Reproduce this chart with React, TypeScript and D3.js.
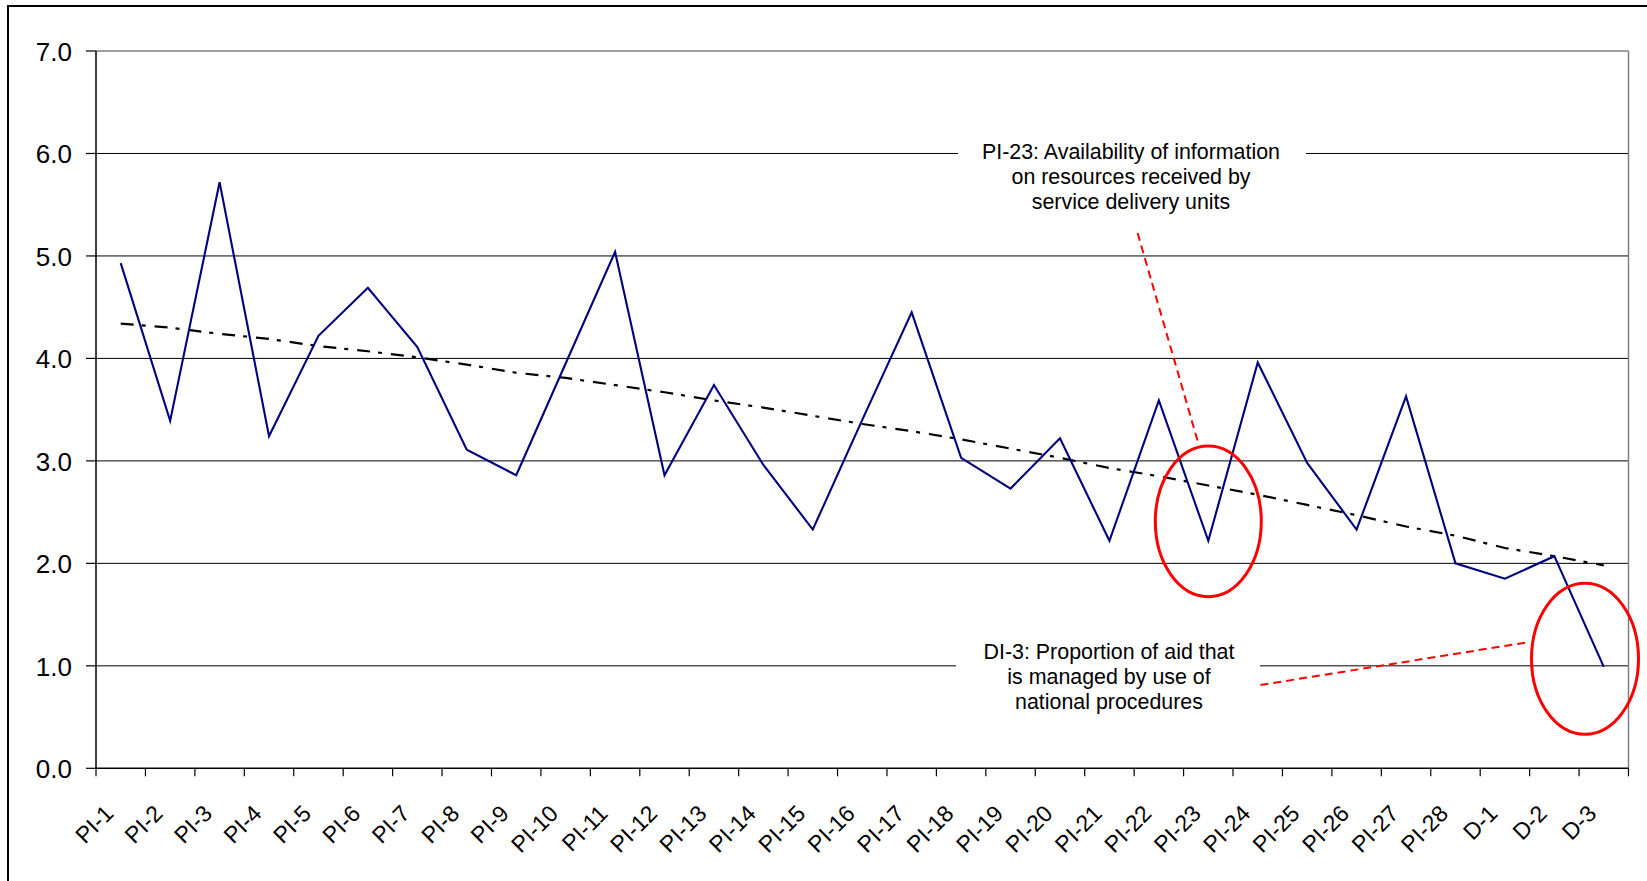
import React from "react";
import * as d3 from "d3";

const categories = [
  "PI-1", "PI-2", "PI-3", "PI-4", "PI-5", "PI-6", "PI-7", "PI-8", "PI-9", "PI-10",
  "PI-11", "PI-12", "PI-13", "PI-14", "PI-15", "PI-16", "PI-17", "PI-18", "PI-19", "PI-20",
  "PI-21", "PI-22", "PI-23", "PI-24", "PI-25", "PI-26", "PI-27", "PI-28", "D-1", "D-2", "D-3",
];

const scores = [
  4.93, 3.39, 5.72, 3.24, 4.22, 4.69, 4.11, 3.11, 2.86, 3.95,
  5.04, 2.86, 3.74, 2.96, 2.33, 3.40, 4.45, 3.03, 2.73, 3.22,
  2.22, 3.59, 2.22, 3.96, 2.98, 2.33, 3.63, 2.00, 1.85, 2.07, 0.99,
];

const trend = [
  4.34, 4.30, 4.24, 4.19, 4.12, 4.07, 4.01, 3.94, 3.86, 3.81,
  3.74, 3.67, 3.59, 3.52, 3.44, 3.36, 3.29, 3.21, 3.12, 3.03,
  2.93, 2.85, 2.76, 2.67, 2.57, 2.47, 2.36, 2.27, 2.15, 2.07, 1.98,
];

const yTicks = [0, 1, 2, 3, 4, 5, 6, 7];

const note1 = [
  "PI-23: Availability of information",
  "on resources received by",
  "service delivery units",
];
const note2 = [
  "DI-3: Proportion of aid that",
  "is managed by use of",
  "national procedures",
];

const W = 1647;
const H = 881;
const left = 96;
const right = 1628.5;
const top = 51;
const bottom = 768.3;
const FONT = "'Liberation Sans', Arial, Helvetica, sans-serif";

export default function App() {
  const x = d3.scaleBand<string>().domain(categories).range([left, right]).padding(0);
  const y = d3.scaleLinear().domain([0, 7]).range([bottom, top]);
  const cx = (c: string) => (x(c) as number) + x.bandwidth() / 2;

  const line = d3
    .line<number>()
    .x((_, i) => cx(categories[i]))
    .y((d) => y(d));

  const boundaries = d3.range(categories.length + 1).map((i) => left + i * x.bandwidth());

  return (
    <svg
      width={W}
      height={H}
      style={{ position: "absolute", left: 0, top: 0, background: "#fff" }}
      fontFamily={FONT}
    >
      <rect x={0} y={0} width={W} height={H} fill="#fff" />
      {/* outer chart frame */}
      <rect x={8} y={6} width={W + 50} height={H + 50} fill="none" stroke="#000" strokeWidth={2} />

      {/* gridlines */}
      {yTicks
        .filter((t) => t > 0 && t < 7)
        .map((t) => (
          <line key={"g" + t} x1={left} x2={right} y1={y(t)} y2={y(t)} stroke="#000" strokeWidth={1} />
        ))}
      {/* plot area border */}
      <line x1={left} x2={right} y1={y(7)} y2={y(7)} stroke="#808080" strokeWidth={1.5} />
      <line x1={right} x2={right} y1={y(7)} y2={bottom} stroke="#808080" strokeWidth={1.5} />

      {/* white boxes behind annotation texts */}
      <rect x={958} y={128} width={348} height={92} fill="#fff" />
      <rect x={956} y={634} width={304} height={88} fill="#fff" />

      {/* axes */}
      <line x1={left} x2={left} y1={y(7)} y2={bottom} stroke="#000" strokeWidth={1.5} />
      <line x1={left} x2={right} y1={bottom} y2={bottom} stroke="#000" strokeWidth={1.5} />
      {yTicks.map((t) => (
        <g key={"yt" + t}>
          <line x1={left - 10} x2={left} y1={y(t)} y2={y(t)} stroke="#000" strokeWidth={1.2} />
          <text x={72} y={y(t) + 10} textAnchor="end" fontSize={26} fill="#000">
            {t.toFixed(1)}
          </text>
        </g>
      ))}
      {boundaries.map((bx, i) => (
        <line key={"xt" + i} x1={bx} x2={bx} y1={bottom} y2={bottom + 8} stroke="#000" strokeWidth={1.2} />
      ))}
      {categories.map((c) => (
        <text
          key={"xl" + c}
          transform={`translate(${cx(c) - 6},${815}) rotate(-45)`}
          textAnchor="end"
          fontSize={23}
          fill="#000"
        >
          {c}
        </text>
      ))}

      {/* trend line */}
      <path
        d={line(trend) || ""}
        fill="none"
        stroke="#000"
        strokeWidth={2.2}
        strokeDasharray="13,8,4,9"
      />
      {/* score line */}
      <path d={line(scores) || ""} fill="none" stroke="#000080" strokeWidth={2.1} />

      {/* annotations */}
      {note1.map((s, i) => (
        <text key={"n1" + i} x={1131} y={159 + i * 25} textAnchor="middle" fontSize={21.4} fill="#000">
          {s}
        </text>
      ))}
      {note2.map((s, i) => (
        <text key={"n2" + i} x={1109} y={659 + i * 25} textAnchor="middle" fontSize={21.4} fill="#000">
          {s}
        </text>
      ))}
      <line x1={1137.6} y1={233} x2={1198.5} y2={444} stroke="#ff0000" strokeWidth={2} strokeDasharray="8,5" />
      <line x1={1260.5} y1={685} x2={1529.4} y2={642} stroke="#ff0000" strokeWidth={2} strokeDasharray="8,5" />
      <ellipse cx={cx("PI-23")} cy={y(2.41)} rx={53} ry={75.3} fill="none" stroke="#ff0000" strokeWidth={3} />
      <ellipse cx={1585} cy={y(1.07)} rx={53.5} ry={75.5} fill="none" stroke="#ff0000" strokeWidth={3} />
    </svg>
  );
}
